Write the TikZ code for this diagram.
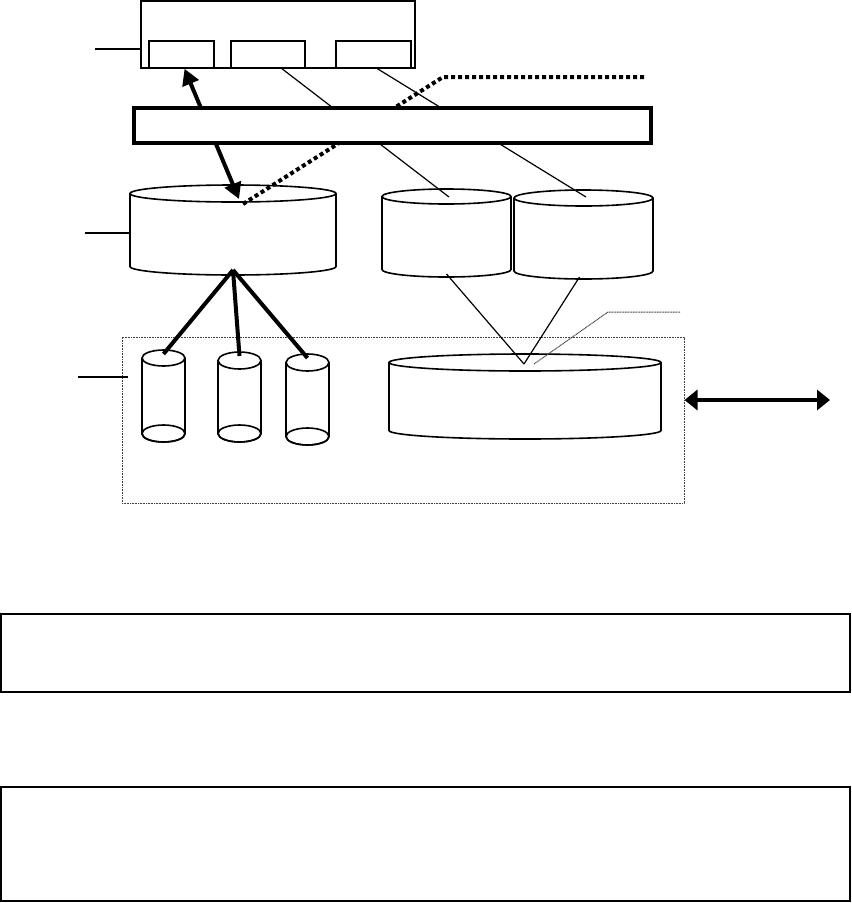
\documentclass[tikz,border=0pt]{standalone}
\usetikzlibrary{arrows.meta,backgrounds}

\begin{document}
\begin{tikzpicture}[x=1pt,y=-1pt,
    frame/.style={draw,line width=2pt,inner sep=0pt},
    slot/.style={draw,line width=1.5pt,inner sep=0pt,minimum height=27pt},
    disk/.style={inner sep=0pt,outer sep=0pt},
    note/.style={draw,line width=1.5pt,inner sep=0pt,minimum width=849pt},
    leader/.style={line width=1.2pt},
    heavy/.style={line width=4pt},
    dots/.style={line width=4pt,dash pattern=on 4pt off 3pt},
    fine dots/.style={line width=1pt,black!75,dash pattern=on 1pt off 0.6pt},
    big tips/.style={{Triangle[length=16pt,width=17pt]}-{Triangle[length=16pt,width=17pt]}}]
  \useasboundingbox (0,0) rectangle (852,903);

  \node[draw,fine dots,inner sep=0pt,minimum width=562pt,minimum height=166pt] (tier) at (403,420) {};

  \node[frame,minimum width=274pt,minimum height=67pt] (host) at (278,34.5) {};
  \node[slot,minimum width=65pt] (slot1) at (181.5,54.5) {};
  \node[slot,minimum width=74pt] (slot2) at (268,54.5) {};
  \node[slot,minimum width=75pt] (slot3) at (373.5,54.5) {};

  \node[frame,fill=white,line width=4pt,minimum width=517pt,minimum height=35pt] (bus) at (392.5,125.5) {};

  \node[disk,minimum width=206pt,minimum height=90pt] (disk1) at (233,230) {};
  \node[disk,minimum width=129pt,minimum height=88pt] (disk2) at (446.5,233) {};
  \node[disk,minimum width=139pt,minimum height=89pt] (disk3) at (583.5,234.5) {};
  \node[disk,minimum width=272pt,minimum height=85pt] (pool) at (525,396.5) {};
  \node[disk,minimum width=43pt,minimum height=92pt] (small1) at (163.5,396) {};
  \node[disk,minimum width=43pt,minimum height=90pt] (small2) at (239.5,397) {};
  \node[disk,minimum width=43pt,minimum height=91pt] (small3) at (307.5,399.5) {};

  \foreach \n/\r/\e in {disk1/103/8.5,disk2/64.5/7.5,disk3/69.5/8,pool/136/8.5,
                        small1/21.5/8,small2/21.5/8.5,small3/21.5/8.5}
    \draw[line width=1.6pt] ([yshift=-\e pt]\n.north west) -- ([yshift=\e pt]\n.south west)
      arc[start angle=180,end angle=360,x radius=\r pt,y radius=\e pt]
      -- ([yshift=-\e pt]\n.north east)
      arc[start angle=0,end angle=360,x radius=\r pt,y radius=\e pt];
  \foreach \s in {small1,small2,small3}
    \draw[line width=1.6pt] ([yshift=8.5pt]\s.south) ellipse [x radius=21.5pt,y radius=8.5pt];

  \node[note,minimum height=78pt] (note1) at (425.5,653) {};
  \node[note,minimum height=114pt] (note2) at (425.5,844) {};

  \coordinate (d1face) at (239,199);
  \coordinate (d2face) at (449,197);
  \coordinate (d3face) at (586,197);
  \coordinate (poolface) at (524,364);
  \coordinate (wan) at (645,77);
  \coordinate (poollbl) at (680,312);
  \coordinate (ext) at (830,400);
  \coordinate (hostlbl) at (95,49);
  \coordinate (disklbl) at (85,233);
  \coordinate (tierlbl) at (78,377);

  \begin{pgfonlayer}{background}
    \draw[heavy,big tips] (d1face) -- ([xshift=3pt]slot1.south);
    \draw[dots] ([shift={(4,5)}]d1face) -- ([xshift=-202pt]wan) -- (wan);
    \draw[leader] ([xshift=14pt]slot2.south) -- (d2face);
    \draw[leader] ([xshift=4pt]slot3.south) -- (d3face);
  \end{pgfonlayer}

  \draw[leader] ([yshift=3pt]disk2.south) -- (poolface);
  \draw[leader] ([shift={(-4,-2)}]disk3.south) -- (poolface);
  \draw[fine dots] ([xshift=10pt]poolface) -- ([xshift=-72pt]poollbl) -- (poollbl);

  \foreach \s in {small1,small2,small3}
    \draw[heavy] ([yshift=5pt]disk1.south) -- ([yshift=-4pt]\s.north);

  \draw[heavy,{Triangle[length=13pt,width=20pt]}-{Triangle[length=13pt,width=20pt]}] (tier.east |- ext) -- (ext);

  \draw[leader] (hostlbl) -- (hostlbl -| host.west);
  \draw[leader] (disklbl) -- (disklbl -| disk1.west);
  \draw[leader] (tierlbl) -- ([xshift=6pt]tierlbl -| tier.west);
\end{tikzpicture}
\end{document}
